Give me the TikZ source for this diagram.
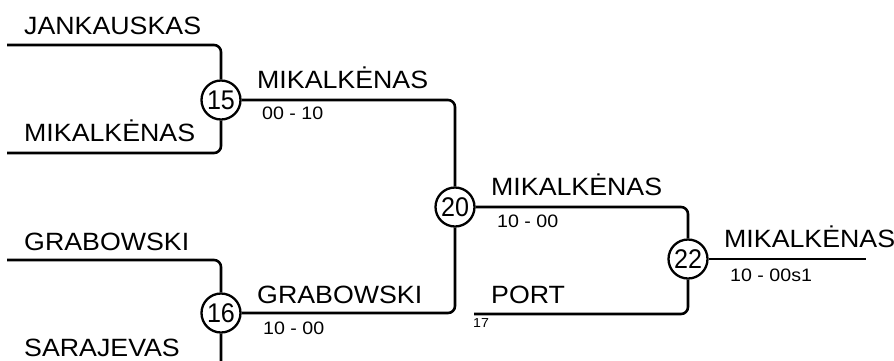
\documentclass[tikz,border=0pt]{standalone}
\usepackage{fontspec}
\setmainfont{Liberation Sans}
\newcommand{\wide}[1]{\scalebox{1.07}[1]{#1}}
\newcommand{\swide}[1]{\scalebox{1.09}[1]{#1}}
\newcommand{\narrow}[1]{\scalebox{0.93}[1]{#1}}
\begin{document}
\begin{tikzpicture}[x=1pt,y=-1pt,
  game/.style={circle,draw,line width=2.3pt,minimum size=39pt,inner sep=0pt,font=\fontsize{27}{27}\selectfont},
  plabel/.style={anchor=base west,inner sep=0pt,font=\fontsize{25}{25}\selectfont},
  slabel/.style={anchor=base west,inner sep=0pt,font=\fontsize{18}{18}\selectfont},
  seedlabel/.style={anchor=base west,inner sep=0pt,font=\fontsize{13}{13}\selectfont},
  wire/.style={line width=2.6pt,rounded corners=7pt}]
\useasboundingbox (0,0) rectangle (894,360);
\clip (0,0) rectangle (894,360);
% match nodes
\node[game] (c15) at (221,100) {\narrow{15}};
\node[game] (c16) at (221,313) {\narrow{16}};
\node[game] (c20) at (455,207) {\narrow{20}};
\node[game] (c22) at (688,259) {\narrow{22}};
% free ends
\coordinate (a1) at (7,45);
\coordinate (a2) at (7,153);
\coordinate (b1) at (7,260);
\coordinate (b2) at (7,368);
\coordinate (p) at (474,314);
\coordinate (w) at (866,259);
% connectors
\draw[wire] (a1) -| (c15);
\draw[wire] (a2) -| (c15);
\draw[wire] (b1) -| (c16);
\draw[wire] (b2) -| (c16);
\draw[wire] (c15) -| (c20);
\draw[wire] (c16) -| (c20);
\draw[wire] (c20) -| (c22);
\draw[wire] (p) -| (c22);
\draw[wire] (c22) -- (w);
% labels
\node[plabel] (n1) at (24,34) {\wide{JANKAUSKAS}};
\node[plabel] (n2) at (24,141) {\wide{MIKALKĖNAS}};
\node[plabel] (n3) at (24,250) {\wide{GRABOWSKI}};
\node[plabel] (n4) at (24,356) {\wide{SARAJEVAS}};
\node[plabel] (n5) at (257,88) {\wide{MIKALKĖNAS}};
\node[slabel] (s5) at (262,119) {\swide{00 - 10}};
\node[plabel] (n6) at (257,303) {\wide{GRABOWSKI}};
\node[slabel] (s6) at (263,334) {\swide{10 - 00}};
\node[plabel] (n7) at (491,195) {\wide{MIKALKĖNAS}};
\node[slabel] (s7) at (497,227) {\swide{10 - 00}};
\node[plabel] (n8) at (491,303) {\wide{PORT}};
\node[seedlabel] (s8) at (473,327) {\swide{17}};
\node[plabel] (n9) at (724,247) {\wide{MIKALKĖNAS}};
\node[slabel] (s9) at (730,281) {\swide{10 - 00s1}};
\end{tikzpicture}
\end{document}
